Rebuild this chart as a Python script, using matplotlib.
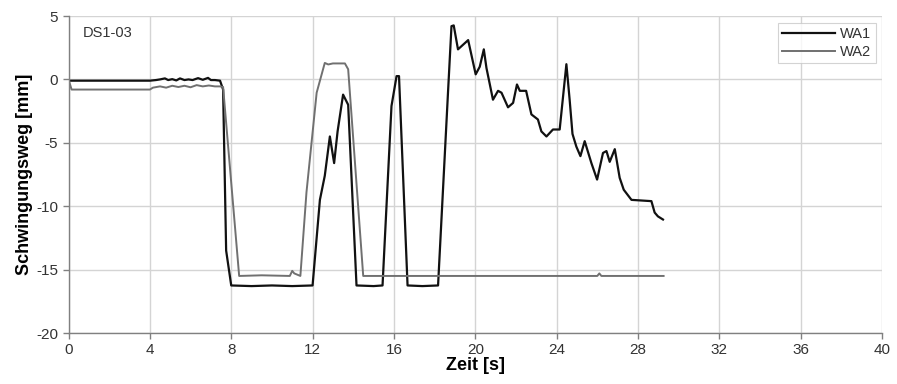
import numpy as np
import matplotlib.pyplot as plt

plt.rcParams['font.family'] = ['Liberation Sans', 'DejaVu Sans']
plt.rcParams['axes.unicode_minus'] = False

# WA1 (black)
t_wa1 = [0.0, 4.0, 4.3, 4.5, 4.74, 4.9, 5.1, 5.3, 5.48, 5.7, 5.9, 6.1, 6.37, 6.6, 6.86, 7.0, 7.2, 7.45,
         7.6, 7.75, 8.0, 9.0, 10.0, 11.0, 12.0,
         12.36, 12.6, 12.85, 13.06, 13.23, 13.5, 13.75, 14.16,
         15.0, 15.44, 15.88, 16.13, 16.25, 16.67, 17.4, 18.17,
         18.66, 18.83, 18.94, 19.15, 19.65, 20.02, 20.22, 20.42, 20.55,
         20.87, 21.12, 21.29, 21.61, 21.86, 22.05, 22.19, 22.5, 22.76, 23.08, 23.25,
         23.5, 23.82, 24.15, 24.48, 24.64, 24.78, 24.97, 25.17, 25.38, 25.71, 25.99,
         26.28, 26.45, 26.61, 26.86, 27.1, 27.3, 27.68, 28.66, 28.82, 28.98, 29.23]
v_wa1 = [-0.1, -0.1, -0.05, 0.0, 0.08, -0.05, 0.02, -0.08, 0.08, -0.05, 0.0, -0.05, 0.1, -0.03, 0.12, -0.05, -0.05, -0.1,
         -0.8, -13.5, -16.25, -16.3, -16.25, -16.3, -16.25,
         -9.5, -7.6, -4.5, -6.6, -4.1, -1.2, -2.0, -16.25,
         -16.3, -16.25, -2.1, 0.26, 0.26, -16.25, -16.3, -16.25,
         -1.0, 4.2, 4.26, 2.37, 3.1, 0.4, 1.0, 2.37, 0.9,
         -1.6, -0.9, -1.05, -2.2, -1.85, -0.4, -0.9, -0.9, -2.76, -3.16, -4.1,
         -4.5, -3.95, -3.95, 1.2, -1.6, -4.3, -5.3, -6.05, -4.87, -6.6, -7.9,
         -5.8, -5.65, -6.5, -5.5, -7.76, -8.7, -9.5, -9.6, -10.5, -10.8, -11.05]

# WA2 (grey)
t_wa2 = [0.0, 0.15, 4.0, 4.15, 4.5, 4.8, 5.1, 5.4, 5.7, 6.0, 6.3, 6.6, 6.9, 7.2, 7.45,
         7.6, 8.39, 9.5, 10.88, 11.0, 11.1, 11.4,
         11.7, 12.2, 12.6, 12.77, 13.0, 13.59, 13.75, 14.49,
         20.0, 26.0, 26.1, 26.2, 29.26]
v_wa2 = [0.0, -0.8, -0.8, -0.65, -0.55, -0.65, -0.5, -0.6, -0.5, -0.62, -0.45, -0.55, -0.48, -0.55, -0.55,
         -0.6, -15.5, -15.45, -15.5, -15.1, -15.3, -15.5,
         -8.9, -1.05, 1.3, 1.18, 1.26, 1.26, 0.8, -15.5,
         -15.5, -15.5, -15.3, -15.5, -15.5]

x_ticks = [0, 4, 8, 12, 16, 20, 24, 28, 32, 36, 40]
y_ticks = [5, 0, -5, -10, -15, -20]

fig = plt.figure(figsize=(8.97, 3.84), dpi=100)
ax = fig.add_axes([0.0764, 0.1328, 0.9069, 0.8255])

ax.plot(t_wa1, v_wa1, color='#111111', linewidth=1.6, label='WA1')
ax.plot(t_wa2, v_wa2, color='#707070', linewidth=1.4, label='WA2')

ax.set_xlim(0, 40)
ax.set_ylim(-20, 5)
ax.set_xticks(x_ticks)
ax.set_yticks(y_ticks)
ax.grid(True, color='#d4d4d4', linewidth=1.0)
ax.set_axisbelow(True)

for side in ['top', 'right']:
    ax.spines[side].set_visible(False)
for side in ['left', 'bottom']:
    ax.spines[side].set_color('#808080')
    ax.spines[side].set_linewidth(1.0)
ax.tick_params(axis='both', colors='#808080', labelcolor='#333333', labelsize=11, length=4, width=1.0)

ax.set_xlabel('Zeit [s]', fontsize=13, fontweight='bold', labelpad=0)
ax.set_ylabel('Schwingungsweg [mm]', fontsize=13, fontweight='bold', labelpad=2)

ax.text(0.018, 0.946, 'DS1-03', transform=ax.transAxes, fontsize=10.5, color='#333333', va='center')

leg = ax.legend(loc='upper right', bbox_to_anchor=(0.9925, 0.979), fontsize=10.5, frameon=True, fancybox=False,
                handlelength=3.6, borderpad=0.3, labelspacing=0.25, handletextpad=0.4, borderaxespad=0)
leg.get_frame().set_edgecolor('#c8c8c8')
leg.get_frame().set_linewidth(0.8)
for txt in leg.get_texts():
    txt.set_color('#333333')

fig.savefig('out.png', dpi=100)
